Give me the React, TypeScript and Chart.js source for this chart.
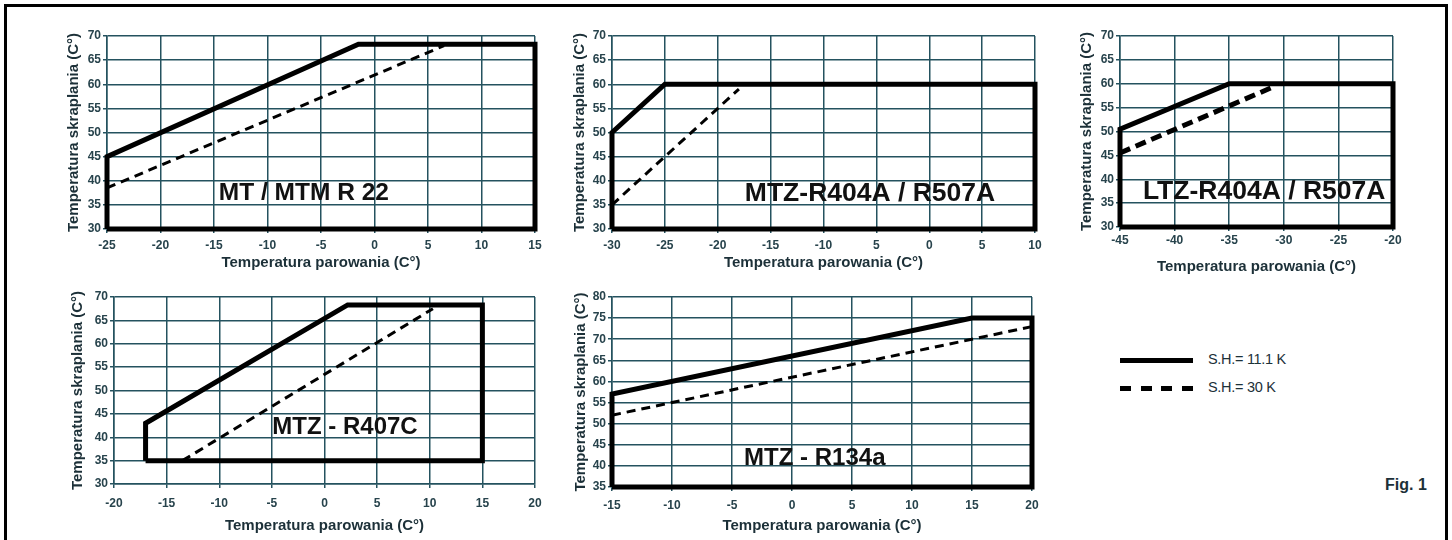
import React, { useEffect, useRef } from "react";
import { Chart, registerables } from "chart.js";

Chart.register(...registerables);

// ---------- DATA ----------
// Panel 1: MT / MTM R 22
const r22SolidX = [-25, -25, -1.5, 15, 15, -25];
const r22SolidY = [30, 45, 68.3, 68.3, 30, 30];
const r22DashX = [-25, 6.5];
const r22DashY = [38.5, 68];
const r22XTicks = [-25, -20, -15, -10, -5, 0, 5, 10, 15];
const r22XLabels = ["-25", "-20", "-15", "-10", "-5", "0", "5", "10", "15"];

// Panel 2: MTZ-R404A / R507A
const r404SolidX = [-30, -30, -25, 10, 10, -30];
const r404SolidY = [30, 50, 60, 60, 30, 30];
const r404DashX = [-30, -18];
const r404DashY = [35, 59];
const r404XTicks = [-30, -25, -20, -15, -10, -5, 0, 5, 10];
const r404XLabels = ["-30", "-25", "-20", "-15", "-10", "5", "0", "5", "10"];

// Panel 3: LTZ-R404A / R507A
const ltzSolidX = [-45, -45, -35, -20, -20, -45];
const ltzSolidY = [30, 50.5, 60, 60, 30, 30];
const ltzDashX = [-45, -31];
const ltzDashY = [45.5, 59.3];
const ltzXTicks = [-45, -40, -35, -30, -25, -20];
const ltzXLabels = ["-45", "-40", "-35", "-30", "-25", "-20"];

// Panel 4: MTZ - R407C
const r407SolidX = [-17, -17, 2.2, 15, 15, -17];
const r407SolidY = [35, 43, 68.3, 68.3, 35, 35];
const r407DashX = [-13.5, 10.3];
const r407DashY = [35, 67.5];
const r407XTicks = [-20, -15, -10, -5, 0, 5, 10, 15, 20];
const r407XLabels = ["-20", "-15", "-10", "-5", "0", "5", "10", "15", "20"];

// Panel 5: MTZ - R134a
const r134SolidX = [-15, -15, 15, 20, 20, -15];
const r134SolidY = [35, 57, 75, 75, 35, 35];
const r134DashX = [-15, 20];
const r134DashY = [52, 73];
const r134XTicks = [-15, -10, -5, 0, 5, 10, 15, 20];
const r134XLabels = ["-15", "-10", "-5", "0", "5", "10", "15", "20"];

const yTicks30to70 = [30, 35, 40, 45, 50, 55, 60, 65, 70];
const yTicks35to80 = [35, 40, 45, 50, 55, 60, 65, 70, 75, 80];

const panelNames = ["MT / MTM R 22", "MTZ-R404A / R507A", "LTZ-R404A / R507A", "MTZ - R407C", "MTZ - R134a"];
const xAxisTitle = "Temperatura parowania (C°)";
const yAxisTitle = "Temperatura skraplania (C°)";
const legendLabels = ["S.H.= 11.1 K", "S.H.= 30 K"];
const figureLabel = "Fig. 1";

// ---------- STYLE / LAYOUT ----------
const GRID = "#24525f";
const TICK_COLOR = "#27434c";
const TITLE_COLOR = "#1c3038";
const SANS = "'Liberation Sans', Arial, Helvetica, sans-serif";
const NARROW = "'Liberation Sans Narrow', 'Liberation Sans', Arial, sans-serif";

type Spec = {
  L: number; R: number; T: number; B: number;
  wy: number; hx: number; xPad: number;
  xTicks: number[]; xLabels: string[]; yTicks: number[];
  sx: number[]; sy: number[]; dx: number[]; dy: number[];
  dash: number[]; dashWidth: number;
  name: string; lx: number; ly: number; lsize: number;
};

const toPts = (xs: number[], ys: number[]) => xs.map((x, i) => ({ x, y: ys[i] }));

const specs: Spec[] = [
  { L: 107, R: 535, T: 36, B: 229, wy: 42, hx: 43, xPad: 5, xTicks: r22XTicks, xLabels: r22XLabels, yTicks: yTicks30to70,
    sx: r22SolidX, sy: r22SolidY, dx: r22DashX, dy: r22DashY, dash: [9, 6], dashWidth: 3,
    name: panelNames[0], lx: -6.6, ly: 37.4, lsize: 24.5 },
  { L: 612, R: 1035, T: 36, B: 229, wy: 41, hx: 43, xPad: 5, xTicks: r404XTicks, xLabels: r404XLabels, yTicks: yTicks30to70,
    sx: r404SolidX, sy: r404SolidY, dx: r404DashX, dy: r404DashY, dash: [9, 6], dashWidth: 3,
    name: panelNames[1], lx: -5.6, ly: 37.4, lsize: 26.5 },
  { L: 1120, R: 1393, T: 36, B: 227, wy: 42, hx: 49, xPad: 2, xTicks: ltzXTicks, xLabels: ltzXLabels, yTicks: yTicks30to70,
    sx: ltzSolidX, sy: ltzSolidY, dx: ltzDashX, dy: ltzDashY, dash: [11, 6], dashWidth: 5,
    name: panelNames[2], lx: -31.8, ly: 37.3, lsize: 26.5 },
  { L: 114, R: 535, T: 297, B: 484, wy: 45, hx: 51, xPad: 8, xTicks: r407XTicks, xLabels: r407XLabels, yTicks: yTicks30to70,
    sx: r407SolidX, sy: r407SolidY, dx: r407DashX, dy: r407DashY, dash: [9, 6], dashWidth: 3,
    name: panelNames[3], lx: 1.95, ly: 42.1, lsize: 24 },
  { L: 612, R: 1032, T: 297, B: 487, wy: 40, hx: 48, xPad: 7, xTicks: r134XTicks, xLabels: r134XLabels, yTicks: yTicks35to80,
    sx: r134SolidX, sy: r134SolidY, dx: r134DashX, dy: r134DashY, dash: [9, 6], dashWidth: 3,
    name: panelNames[4], lx: 1.9, ly: 41.8, lsize: 24 },
];

const labelPlugin = {
  id: "panelLabel",
  afterDatasetsDraw(chart: any, _a: any, opts: any) {
    const { ctx, scales } = chart;
    const x = scales.x.getPixelForValue(opts.x);
    const y = scales.y.getPixelForValue(opts.y);
    ctx.save();
    ctx.font = `bold ${opts.size}px ${SANS}`;
    ctx.fillStyle = "#111";
    ctx.textAlign = "center";
    ctx.textBaseline = "middle";
    ctx.fillText(opts.text, x, y);
    ctx.restore();
  },
};

const PAD_TOP = 10;
const PAD_RIGHT = 22;

function Panel({ s }: { s: Spec }) {
  const ref = useRef<HTMLCanvasElement>(null);
  const width = s.wy + (s.R - s.L) + PAD_RIGHT;
  const height = PAD_TOP + (s.B - s.T) + s.hx;
  useEffect(() => {
    const yMin = s.yTicks[0];
    const yMax = s.yTicks[s.yTicks.length - 1];
    const xMin = s.xTicks[0];
    const xMax = s.xTicks[s.xTicks.length - 1];
    const chart = new Chart(ref.current as HTMLCanvasElement, {
      type: "scatter",
      data: {
        datasets: [
          {
            data: toPts(s.sx, s.sy), showLine: true, borderColor: "#000", borderWidth: 5, clip: false,
            pointRadius: 0, borderJoinStyle: "miter", borderCapStyle: "butt", tension: 0, fill: false,
          },
          {
            data: toPts(s.dx, s.dy), showLine: true, borderColor: "#000", borderWidth: s.dashWidth, clip: false,
            borderDash: s.dash, pointRadius: 0, borderCapStyle: "butt", tension: 0, fill: false,
          },
        ],
      } as any,
      options: {
        animation: false,
        responsive: false,
        devicePixelRatio: 1,
        layout: { padding: { top: PAD_TOP, right: PAD_RIGHT, left: 0, bottom: 0 } },
        plugins: {
          legend: { display: false },
          tooltip: { enabled: false },
          panelLabel: { text: s.name, x: s.lx, y: s.ly, size: s.lsize },
        } as any,
        scales: {
          x: {
            type: "linear", min: xMin, max: xMax,
            afterBuildTicks: (sc: any) => { sc.ticks = s.xTicks.map((v) => ({ value: v })); },
            afterFit: (sc: any) => { sc.height = s.hx; },
            ticks: {
              autoSkip: false, maxRotation: 0, padding: s.xPad, color: TICK_COLOR,
              font: { family: NARROW, size: 12, weight: "bold" },
              callback: (_v: any, i: number) => s.xLabels[i],
            },
            grid: { color: GRID, lineWidth: 1.5, tickLength: 4, drawTicks: true },
            border: { color: GRID, width: 1.5 },
            title: { display: true, text: xAxisTitle, color: TITLE_COLOR, padding: 0,
              font: { family: SANS, size: 15, weight: "bold" } },
          },
          y: {
            type: "linear", min: yMin, max: yMax,
            afterBuildTicks: (sc: any) => { sc.ticks = s.yTicks.map((v) => ({ value: v })); },
            afterFit: (sc: any) => { sc.width = s.wy; },
            ticks: {
              autoSkip: false, padding: 2, color: TICK_COLOR,
              font: { family: NARROW, size: 12, weight: "bold" },
              callback: (v: any) => String(v),
            },
            grid: { color: GRID, lineWidth: 1.5, tickLength: 4, drawTicks: true },
            border: { color: GRID, width: 1.5 },
            title: { display: true, text: yAxisTitle, color: TITLE_COLOR, padding: 0,
              font: { family: SANS, size: 15, weight: "bold" } },
          },
        },
      } as any,
      plugins: [labelPlugin as any],
    });
    return () => chart.destroy();
  }, [s]);
  return (
    <canvas
      ref={ref}
      width={width}
      height={height}
      style={{ position: "absolute", left: s.L - s.wy, top: s.T - PAD_TOP, width, height }}
    />
  );
}

export default function App() {
  return (
    <div style={{ position: "fixed", left: 0, top: 0, width: 1452, height: 540, background: "#fff", overflow: "hidden" }}>
      <div style={{ position: "absolute", left: 4, top: 4, width: 1438, height: 560, border: "3px solid #000", borderBottom: "none" }} />
      {specs.map((s, i) => <Panel key={i} s={s} />)}
      <div style={{ position: "absolute", left: 1120, top: 358, width: 73, height: 5, background: "#000" }} />
      <div style={{ position: "absolute", left: 1120, top: 386, width: 73, height: 5,
        background: "repeating-linear-gradient(to right, #000 0px, #000 11px, transparent 11px, transparent 20.5px)" }} />
      <div style={{ position: "absolute", left: 1208, top: 351, font: `14.5px ${SANS}`, color: TITLE_COLOR, letterSpacing: "-0.3px", whiteSpace: "nowrap" }}>{legendLabels[0]}</div>
      <div style={{ position: "absolute", left: 1208, top: 379, font: `14.5px ${SANS}`, color: TITLE_COLOR, letterSpacing: "-0.3px", whiteSpace: "nowrap" }}>{legendLabels[1]}</div>
      <div style={{ position: "absolute", left: 1385, top: 476, font: `bold 16px ${SANS}`, color: TITLE_COLOR, whiteSpace: "nowrap" }}>{figureLabel}</div>
    </div>
  );
}
